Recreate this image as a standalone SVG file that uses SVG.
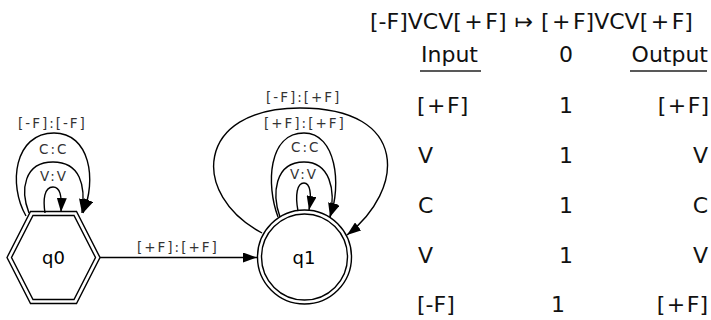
<svg xmlns="http://www.w3.org/2000/svg" width="711" height="320" viewBox="0 0 711 320">
<defs>
<style>
.edge{fill:none;stroke:#000;stroke-width:1.4}
.shape{fill:none;stroke:#000;stroke-width:1.4}
.elab{font-family:"DejaVu Sans",sans-serif;font-size:13.5px;letter-spacing:2px;fill:#333}
.nlab{font-family:"DejaVu Sans",sans-serif;font-size:18px;text-anchor:middle;fill:#000}
.tab{font-family:"DejaVu Sans",sans-serif;font-size:22px;fill:#111}
.ul{stroke:#222;stroke-width:1.6}
</style>
<marker id="ah" markerUnits="userSpaceOnUse" markerWidth="14" markerHeight="10" refX="14" refY="5" orient="auto">
<path d="M0,0 L14,5 L0,10 Z" fill="#000"/>
</marker>
</defs>
<rect width="711" height="320" fill="#fff"/>

<g id="connectors">
<path class="edge" d="M100,257.5 L257,257.5" marker-end="url(#ah)"/>
<text class="elab" x="137" y="252">[+F]:[+F]</text>

<path class="edge" d="M45,213 C43,200 44,187 53,187 C60,187 62,195 61,212" marker-end="url(#ah)"/>
<text class="elab" x="40" y="181">V:V</text>
<path class="edge" d="M29,213 C20,190 24,162 53,162 C80,162 86,185 82,213" marker-end="url(#ah)"/>
<text class="elab" x="39" y="154">C:C</text>
<path class="edge" d="M26,216 C8,185 14,133 54,133 C90,133 97,180 83,213" marker-end="url(#ah)"/>
<text class="elab" x="18" y="128">[-F]:[-F]</text>

<path class="edge" d="M298,211 C295,195 297,183 304,183 C310,183 312,194 309,210" marker-end="url(#ah)"/>
<text class="elab" x="290" y="179">V:V</text>
<path class="edge" d="M280,217 C272,195 274,162 304,162 C330,162 336,190 330,217" marker-end="url(#ah)"/>
<text class="elab" x="291" y="152">C:C</text>
<path class="edge" d="M278,217 C266,185 268,133 304,133 C336,133 342,185 330,217" marker-end="url(#ah)"/>
<text class="elab" x="264" y="128">[+F]:[+F]</text>
<path class="edge" d="M262,233 C190,195 195,108 300,108 C410,108 405,190 347,235" marker-end="url(#ah)"/>
<text class="elab" x="266" y="102">[-F]:[+F]</text>
</g>

<g id="q0">
<polygon class="shape" points="7,257.5 30.5,211.5 76.5,211.5 100,257.5 76.5,303.5 30.5,303.5"/>
<polygon class="shape" points="11.5,257.5 33,215.5 74,215.5 95.5,257.5 74,299.5 33,299.5"/>
<text class="nlab" x="53.5" y="264">q0</text>
</g>

<g id="q1">
<circle class="shape" cx="304.5" cy="257" r="47"/>
<circle class="shape" cx="304.5" cy="257" r="43"/>
<text class="nlab" x="304" y="264">q1</text>
</g>

<g id="table">
<text class="tab" x="370" y="29">[-F]VCV[<tspan dx="2.5">+</tspan><tspan dx="2.5">F]</tspan><tspan dx="8">↦</tspan><tspan dx="8">[</tspan><tspan dx="2.5">+</tspan><tspan dx="2.5">F]VCV[</tspan><tspan dx="2.5">+</tspan><tspan dx="2.5">F]</tspan></text>
<text class="tab" x="421" y="62">Input</text>
<line class="ul" x1="420" y1="71" x2="481" y2="71"/>
<text class="tab" x="566" y="62" text-anchor="middle">0</text>
<text class="tab" x="708" y="62" text-anchor="end">Output</text>
<line class="ul" x1="630" y1="71" x2="707" y2="71"/>

<text class="tab" x="417" y="113">[<tspan dx="1.5">+</tspan><tspan dx="1.5">F]</tspan></text>
<text class="tab" x="566" y="113" text-anchor="middle">1</text>
<text class="tab" x="709" y="113" text-anchor="end">[<tspan dx="1.5">+</tspan><tspan dx="1.5">F]</tspan></text>

<text class="tab" x="418" y="163">V</text>
<text class="tab" x="566" y="163" text-anchor="middle">1</text>
<text class="tab" x="708" y="163" text-anchor="end">V</text>

<text class="tab" x="418" y="213">C</text>
<text class="tab" x="566" y="213" text-anchor="middle">1</text>
<text class="tab" x="708" y="213" text-anchor="end">C</text>

<text class="tab" x="418" y="263">V</text>
<text class="tab" x="566" y="263" text-anchor="middle">1</text>
<text class="tab" x="708" y="263" text-anchor="end">V</text>

<text class="tab" x="417" y="312">[-F]</text>
<text class="tab" x="558" y="312" text-anchor="middle">1</text>
<text class="tab" x="708" y="312" text-anchor="end">[<tspan dx="1.5">+</tspan><tspan dx="1.5">F]</tspan></text>
</g>
</svg>
